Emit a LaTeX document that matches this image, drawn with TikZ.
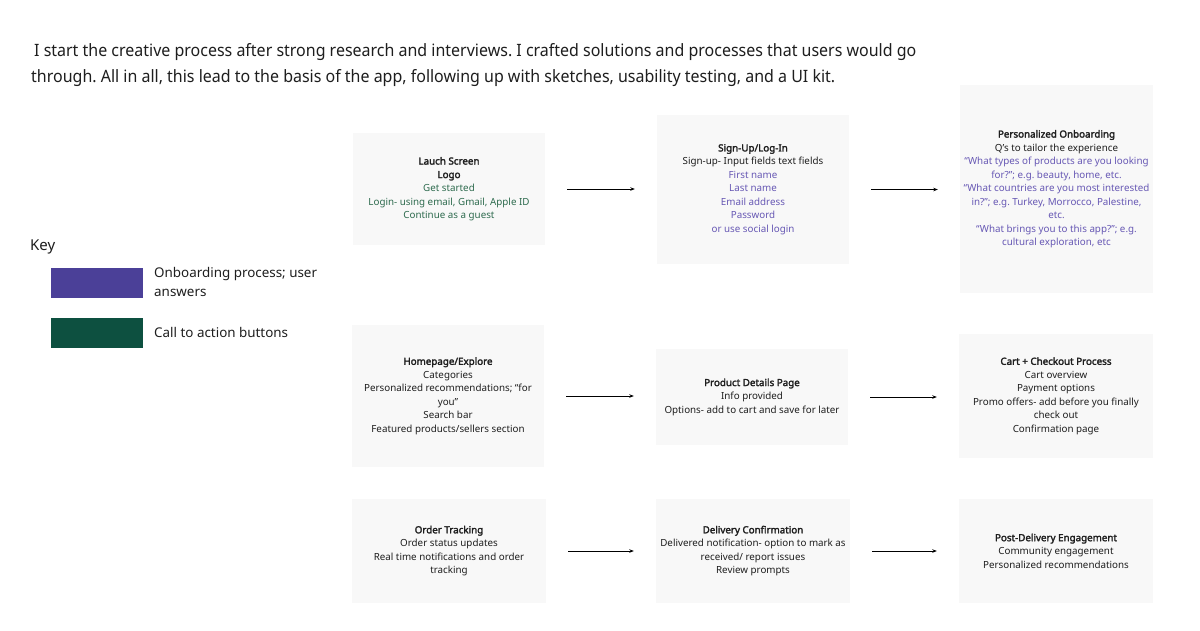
\documentclass[tikz,border=0pt]{standalone}
\usepackage{fontspec}
\setmainfont{Noto Sans}[AutoFakeBold=2.4]
\newfontfamily\titlefont[FakeStretch=0.94]{Noto Sans}
\usetikzlibrary{arrows.meta}
\definecolor{boxbg}{HTML}{F8F8F8}
\definecolor{keypurple}{HTML}{4B4098}
\definecolor{keygreen}{HTML}{0D5040}
\definecolor{ctagreen}{HTML}{2E6B4E}
\definecolor{onbpurple}{HTML}{6758B4}
\definecolor{ink}{HTML}{1E1E1E}
\frenchspacing
\begin{document}
\begin{tikzpicture}[x=1pt,y=-1pt,
  stage/.style={fill=boxbg, draw=none, inner sep=0pt, align=center, text=ink,
    font=\fontsize{9.8}{13.5}\selectfont},
  flow/.style={-{Stealth[length=4.5pt,width=3.5pt]}, line width=0.8pt, draw=black,
    shorten >=22pt, shorten <=22pt},
  swatch/.style={inner sep=0pt, minimum width=92pt, minimum height=30pt, draw=none},
  keytext/.style={anchor=west, align=left, inner sep=0pt, text=ink,
    font=\fontsize{13.4}{19}\selectfont}]
\useasboundingbox (0,0) rectangle (1200,630);
\fill[white] (0,0) rectangle (1200,630);

% intro text
\node[anchor=north west, inner sep=0pt, align=left, text=ink,
  font=\titlefont\fontsize{17}{26}\selectfont] (intro) at (31,43.5)
  {\hspace{3pt}I start the creative process after strong research and interviews. I crafted solutions and processes that users would go\\
   through. All in all, this lead to the basis of the app, following up with sketches, usability testing, and a UI kit.};

% key
\node[anchor=west, inner sep=0pt, text=ink, font=\fontsize{15}{18}\selectfont] (keytitle) at (30,247) {Key};
\node[swatch, fill=keypurple] (keyonb) at (97,283) {};
\node[swatch, fill=keygreen] (keycta) at (97,333) {};
\node[keytext] (keyonbtxt) at (154,281.5) {Onboarding process; user\\answers};
\node[keytext] (keyctatxt) at (154,332) {Call to action buttons};

% row 1
\node[stage, minimum width=192pt, minimum height=112pt] (launch) at (449,189)
  {\textbf{Lauch Screen}\\ \textbf{Logo}\\
   \textcolor{ctagreen}{Get started}\\
   \textcolor{ctagreen}{Login- using email, Gmail, Apple ID}\\
   \textcolor{ctagreen}{Continue as a guest}};
\node[stage, minimum width=192pt, minimum height=149pt] (signup) at (753,189.5)
  {\textbf{Sign-Up/Log-In}\\ Sign-up- Input fields text fields\\
   \textcolor{onbpurple}{First name}\\
   \textcolor{onbpurple}{Last name}\\
   \textcolor{onbpurple}{Email address}\\
   \textcolor{onbpurple}{Password}\\
   \textcolor{onbpurple}{or use social login}};
\node[stage, minimum width=193pt, minimum height=208pt] (onboard) at (1056.5,189)
  {\textbf{Personalized Onboarding}\\ Q’s to tailor the experience\\
   \textcolor{onbpurple}{“What types of products are you looking}\\
   \textcolor{onbpurple}{for?”; e.g. beauty, home, etc.}\\
   \textcolor{onbpurple}{“What countries are you most interested}\\
   \textcolor{onbpurple}{in?”; e.g. Turkey, Morrocco, Palestine,}\\
   \textcolor{onbpurple}{etc.}\\
   \textcolor{onbpurple}{“What brings you to this app?”; e.g.}\\
   \textcolor{onbpurple}{cultural exploration, etc}};

% row 2
\node[stage, minimum width=192pt, minimum height=142pt] (home) at (448,396)
  {\textbf{Homepage/Explore}\\ Categories\\
   Personalized recommendations; “for\\ you”\\ Search bar\\
   Featured products/sellers section};
\node[stage, minimum width=192pt, minimum height=96pt] (product) at (752,397)
  {\textbf{Product Details Page}\\ Info provided\\
   Options- add to cart and save for later};
\node[stage, minimum width=194pt, minimum height=124pt] (cart) at (1056,396)
  {\textbf{Cart + Checkout Process}\\ Cart overview\\ Payment options\\
   Promo offers- add before you finally\\ check out\\ Confirmation page};

% row 3
\node[stage, minimum width=194pt, minimum height=104pt] (tracking) at (449,551)
  {\textbf{Order Tracking}\\ Order status updates\\
   Real time notifications and order\\ tracking};
\node[stage, minimum width=194pt, minimum height=104pt] (delivery) at (753,551)
  {\textbf{Delivery Confirmation}\\ Delivered notification- option to mark as\\
   received/ report issues\\ Review prompts};
\node[stage, minimum width=194pt, minimum height=104pt] (post) at (1056,551)
  {\textbf{Post-Delivery Engagement}\\ Community engagement\\
   Personalized recommendations};

% connectors
\draw[flow] (launch.east) -- (launch.east -| signup.west);
\draw[flow] (signup.east) -- (signup.east -| onboard.west);
\draw[flow] (home.east) -- (home.east -| product.west);
\draw[flow] (product.east) -- (product.east -| cart.west);
\draw[flow] (tracking.east) -- (tracking.east -| delivery.west);
\draw[flow] (delivery.east) -- (delivery.east -| post.west);
\end{tikzpicture}
\end{document}
